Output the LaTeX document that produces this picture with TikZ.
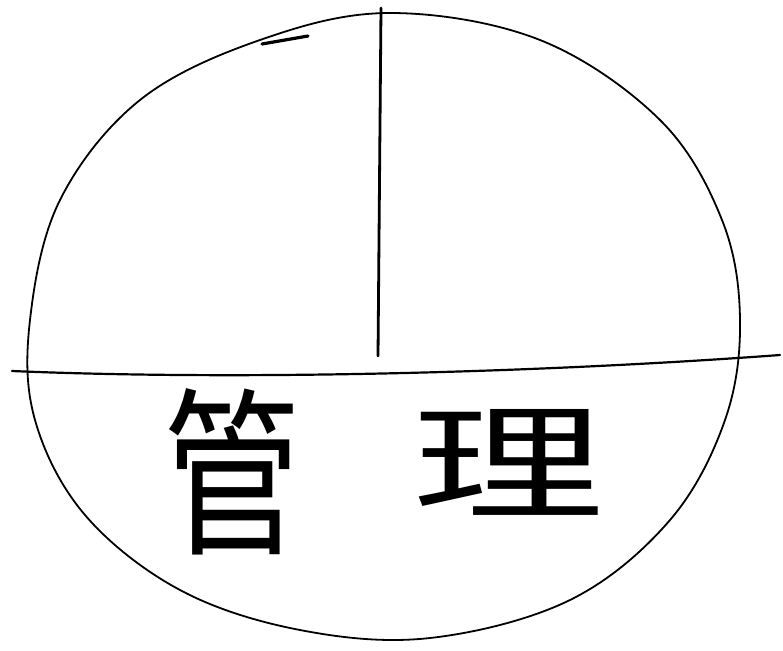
\documentclass[tikz,border=0pt]{standalone}
\usepackage{fontspec}
\newfontfamily\cjk{Noto Sans CJK SC}
\begin{document}
\begin{tikzpicture}[x=1pt,y=-1pt,
  sketch/.style={draw=black,line width=1.8pt,line cap=round,line join=round},
  bold/.style={draw=black,line width=3.2pt,line cap=round},
  glyph/.style={font=\cjk\fontsize{120}{120}\selectfont,inner sep=0pt,text=black}]
\useasboundingbox (0,0) rectangle (783,650);
% outer hand-drawn circle
\draw[sketch] plot[smooth cycle,tension=0.6] coordinates {
  (390,13) (540,40) (660,120) (722,220) (740,320) (725,420)
  (670,520) (570,600) (430,638) (300,630) (180,590) (85,515)
  (35,420) (30,320) (60,200) (140,100) (260,40)};
% top-left thicker stroke
\draw[bold] (262,44) -- (308,36);
% horizontal line
\coordinate (hl) at (12,371);
\coordinate (hr) at (780,355);
\draw[sketch,line width=2.2pt] (hl) .. controls (250,381) and (550,372) .. (hr);
% vertical line
\coordinate (vt) at (381,8);
\coordinate (vb) at (378,356);
\draw[sketch,line width=2.8pt] (vt) -- (vb);
% text
\node[glyph,xscale=1.15,yscale=1.5] (guan) at (232,472) {管};
\node[glyph,xscale=1.6,yscale=1.05] (li) at (508,462) {理};
\end{tikzpicture}
\end{document}
